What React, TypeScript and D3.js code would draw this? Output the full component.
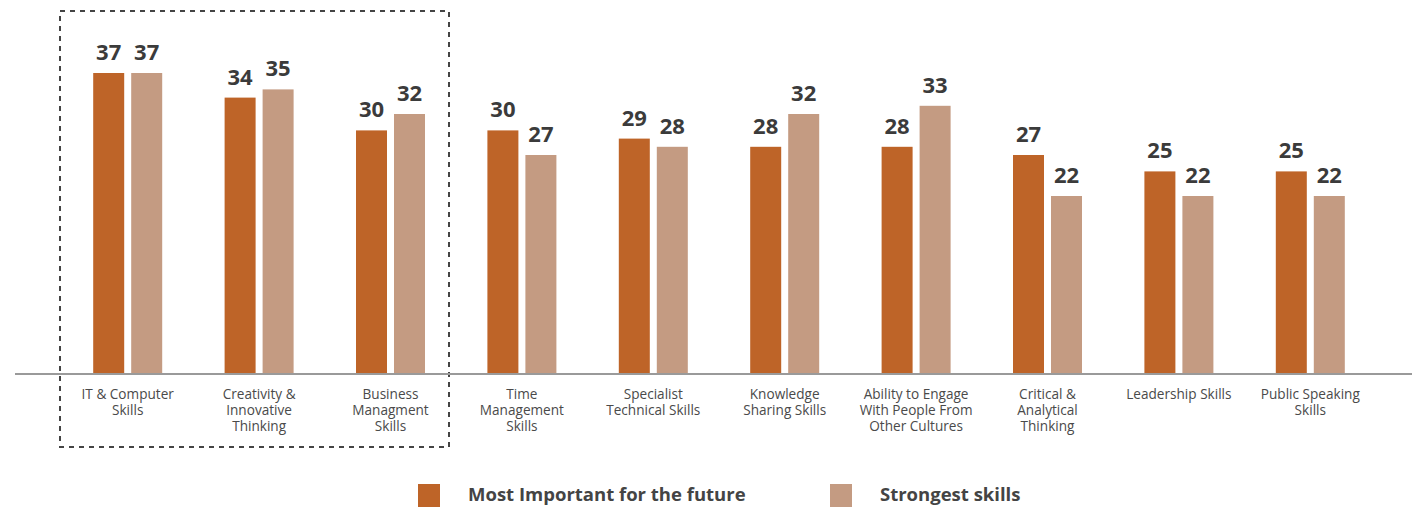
import { useEffect, useRef } from 'react';
import * as d3 from 'd3';

const categories = [
  ['IT & Computer', 'Skills'],
  ['Creativity &', 'Innovative', 'Thinking'],
  ['Business', 'Managment', 'Skills'],
  ['Time', 'Management', 'Skills'],
  ['Specialist', 'Technical Skills'],
  ['Knowledge', 'Sharing Skills'],
  ['Ability to Engage', 'With People From', 'Other Cultures'],
  ['Critical &', 'Analytical', 'Thinking'],
  ['Leadership Skills'],
  ['Public Speaking', 'Skills'],
];
const mostImportant = [37, 34, 30, 30, 29, 28, 28, 27, 25, 25];
const strongest = [37, 35, 32, 27, 28, 32, 33, 22, 22, 22];
const seriesNames = ['Most Important for the future', 'Strongest skills'];
const colors = ['#BE6428', '#C49B82'];

function App() {
  const ref = useRef<SVGSVGElement>(null);

  useEffect(() => {
    const svg = d3.select(ref.current);
    svg.selectAll('*').remove();
    const font = '"Open Sans", sans-serif';
    const axisY = 374;

    const x = d3
      .scaleBand<number>()
      .domain(d3.range(categories.length))
      .range([62, 1376]);
    const y = d3.scaleLinear().domain([0, 37]).range([376.4, 73]);
    const barW = 31;

    // dashed box round the first three groups
    svg
      .append('rect')
      .attr('x', 60)
      .attr('y', 11)
      .attr('width', 389)
      .attr('height', 436)
      .attr('fill', 'none')
      .attr('stroke', '#444')
      .attr('stroke-width', 2)
      .attr('stroke-dasharray', '5,5');

    const series = [mostImportant, strongest];
    series.forEach((vals, si) => {
      const g = svg.append('g');
      const bx = (i: number) =>
        (x(i) as number) + x.bandwidth() / 2 + (si === 0 ? -barW - 3.5 : 3.5);
      g.selectAll('rect')
        .data(vals)
        .enter()
        .append('rect')
        .attr('x', (_d, i) => bx(i))
        .attr('y', (d) => y(d))
        .attr('width', barW)
        .attr('height', (d) => axisY - y(d))
        .attr('fill', colors[si]);
      g.selectAll('text')
        .data(vals)
        .enter()
        .append('text')
        .attr('x', (_d, i) => bx(i) + barW / 2)
        .attr('y', (d) => y(d) - 13)
        .attr('text-anchor', 'middle')
        .attr('font-family', font)
        .attr('font-weight', 700)
        .attr('font-size', 22)
        .attr('fill', '#3b3b3b')
        .text((d) => d);
    });

    svg
      .append('line')
      .attr('x1', 15)
      .attr('x2', 1412)
      .attr('y1', axisY)
      .attr('y2', axisY)
      .attr('stroke', '#9a9a9a')
      .attr('stroke-width', 2);

    const labels = svg
      .append('g')
      .selectAll('text')
      .data(categories)
      .enter()
      .append('text')
      .attr('x', (_d, i) => (x(i) as number) + x.bandwidth() / 2)
      .attr('y', 399)
      .attr('text-anchor', 'middle')
      .attr('font-family', font)
      .attr('font-size', 13.6)
      .attr('fill', '#4a4a4a');
    labels
      .selectAll('tspan')
      .data((d) => d)
      .enter()
      .append('tspan')
      .attr('x', function () {
        return (this as any).parentNode.getAttribute('x');
      })
      .attr('dy', (_d, j) => (j === 0 ? 0 : 16))
      .text((d) => d);

    const legend = svg.append('g');
    const lx = [418, 830];
    seriesNames.forEach((name, i) => {
      legend
        .append('rect')
        .attr('x', lx[i])
        .attr('y', 484)
        .attr('width', 22)
        .attr('height', 23)
        .attr('fill', colors[i]);
      legend
        .append('text')
        .attr('x', lx[i] + 50)
        .attr('y', 501)
        .attr('font-family', font)
        .attr('font-weight', 700)
        .attr('font-size', 18.5)
        .attr('fill', '#444')
        .text(name);
    });
  }, []);

  return (
    <svg
      ref={ref}
      width={1412}
      height={508}
      style={{ position: 'absolute', left: 0, top: 0, background: '#fff' }}
    />
  );
}

export default App;
